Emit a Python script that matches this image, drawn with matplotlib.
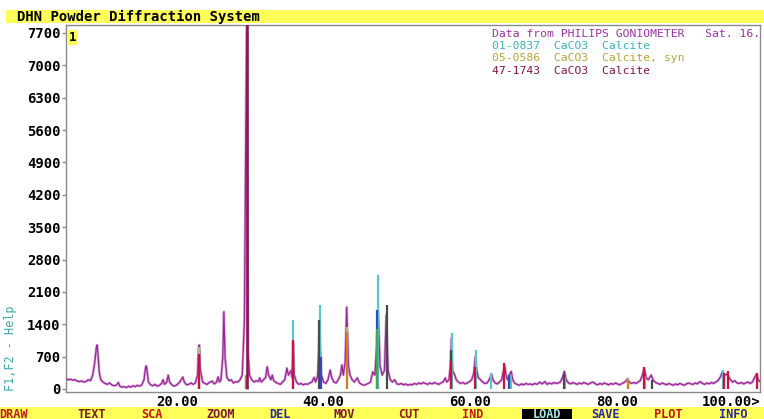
import matplotlib
matplotlib.use("Agg")
import matplotlib.pyplot as plt
from matplotlib.patches import Rectangle

# ---------------- data ----------------
meas_x = [4.9, 5.2, 5.5, 5.8, 6.1, 6.4, 6.7, 7.0, 7.3, 7.6, 7.9, 8.2, 8.5, 8.8, 9.0, 9.1, 9.25, 9.4, 9.6, 9.9,
          10.2, 10.5, 10.8, 11.1, 11.4, 11.7, 12.0, 12.2, 12.5, 12.8, 13.1, 13.4, 13.7, 14.0, 14.3, 14.6, 14.9,
          15.2, 15.5, 15.7, 15.8, 15.9, 16.1, 16.4,
          16.7, 17.0, 17.3, 17.6, 17.9, 18.1, 18.3, 18.6, 18.8, 19.0, 19.3, 19.6, 19.9, 20.2, 20.5, 20.8, 21.0,
          21.3, 21.6, 21.9, 22.2, 22.5, 22.8, 22.95, 23.05, 23.2, 23.5, 23.8, 24.1, 24.4, 24.8, 25.1, 25.4, 25.6,
          25.8, 26.0, 26.25, 26.4, 26.55, 26.8, 27.1, 27.4, 27.7, 28.0, 28.3, 28.6, 28.9, 29.2, 29.5,
          29.7, 29.9, 30.2, 30.5, 30.8, 31.1, 31.3, 31.5, 31.8, 32.1, 32.3, 32.5, 32.8, 33.0, 33.2, 33.5, 33.8,
          34.1, 34.4, 34.7, 35.0, 35.2, 35.55, 35.7, 35.85, 36.0, 36.3, 36.6, 36.9, 37.2, 37.5, 37.8, 38.1, 38.4,
          38.7, 38.9, 39.2, 39.45, 39.7, 40.0, 40.3, 40.6, 40.9, 41.1, 41.4, 41.7, 42.0, 42.3, 42.5, 42.7, 42.95,
          43.15, 43.4, 43.6, 43.9, 44.2, 44.6, 44.9, 45.2, 45.5, 45.8, 46.1, 46.4, 46.7, 47.0, 47.2, 47.45, 47.7,
          48.0, 48.3, 48.55, 48.8, 49.1, 49.4, 49.7, 50.0, 50.3, 50.6, 50.9, 51.2, 51.5, 51.8,
          52.1, 52.4, 52.7, 53.0, 53.3, 53.6, 53.9, 54.2, 54.5, 54.8, 55.1, 55.4, 55.7, 56.0, 56.3, 56.6, 56.8,
          57.1, 57.3, 57.45, 57.6, 57.9, 58.1, 58.4, 58.7, 59.0, 59.3, 59.6, 59.9, 60.2, 60.5, 60.7, 60.9, 61.1,
          61.4, 61.7, 62.0, 62.3, 62.6, 62.9, 63.1, 63.4, 63.7, 64.0, 64.3, 64.55, 64.7, 64.9, 65.1, 65.4, 65.6,
          65.8, 66.1, 66.4, 66.7, 67.0, 67.3, 67.6, 67.9, 68.2, 68.5, 68.8, 69.1, 69.5, 69.8, 70.2, 70.5, 70.8,
          71.1, 71.4, 71.7, 72.0, 72.3, 72.6, 72.85, 73.1, 73.4, 73.7, 74.0, 74.3, 74.6, 74.9, 75.2, 75.5, 75.8,
          76.1, 76.4, 76.75, 77.1, 77.4, 77.7, 78.0, 78.3, 78.6, 78.9, 79.2, 79.5, 79.8, 80.1, 80.4, 80.7, 81.0,
          81.3, 81.5, 81.7, 82.0, 82.3, 82.6, 82.9, 83.2, 83.5, 83.75, 84.0, 84.3, 84.7, 85.0, 85.3, 85.6, 85.9,
          86.2, 86.5, 86.8, 87.1, 87.4, 87.7, 88.0, 88.3, 88.6, 88.9, 89.2, 89.5, 89.8, 90.1, 90.4, 90.7, 91.0,
          91.35, 91.7, 92.0, 92.3, 92.6, 92.9, 93.2, 93.5, 93.8, 94.1, 94.45, 94.7, 95.0, 95.2, 95.5, 95.8, 96.1,
          96.4, 96.7, 97.0, 97.3, 97.6, 97.9, 98.2, 98.5, 98.8, 99.1, 99.3, 99.6]
meas_y = [220, 200, 210, 190, 200, 170, 160, 175, 150, 165, 200, 180, 300, 600, 900, 950, 700, 350, 200, 150,
          120, 100, 130, 90, 70, 80, 140, 60, 40, 50, 30, 60, 40, 70, 50, 80, 60,
          90, 200, 450, 500, 420, 150, 90,
          70, 100, 60, 80, 120, 200, 100, 150, 300, 150, 90, 60, 80, 120, 180, 260, 150,
          90, 100, 130, 100, 130, 300, 900, 950, 400, 150, 120, 100, 140, 170, 110, 150, 260,
          150, 200, 700, 1670, 700, 250, 180, 200, 130, 160, 150, 200, 300, 1500, 7900,
          800, 300, 200, 150, 180, 160, 240, 150, 200, 250, 480, 300, 200, 300, 180, 140, 120,
          100, 150, 200, 450, 300, 400, 250, 1000, 300, 150, 100, 120, 90, 110, 100, 130, 150,
          250, 150, 300, 1300, 300, 150, 120, 200, 410, 250, 150, 130, 200, 300, 520, 300, 600,
          1770, 500, 300, 200, 150, 240, 130, 100, 80, 100, 120, 150, 370, 300, 800, 1700, 500,
          300, 400, 1600, 400, 200, 150, 200, 110, 100, 120, 90, 110, 80, 100,
          90, 120, 100, 130, 110, 140, 120, 100, 130, 110, 140, 120, 100, 130, 150, 240, 150,
          200, 500, 1100, 400, 300, 200, 150, 120, 140, 110, 130, 160, 200, 350, 700, 400, 250,
          200, 150, 120, 130, 200, 330, 200, 130, 110, 150, 200, 400, 500, 300, 200, 320, 380,
          200, 120, 100, 80, 110, 90, 120, 100, 110, 90, 120, 100, 150, 110, 160, 100, 130,
          110, 140, 120, 130, 150, 250, 380, 200, 130, 110, 140, 120, 100, 130, 110, 140, 120,
          100, 130, 150, 110, 90, 120, 100, 130, 110, 90, 120, 100, 130, 110, 90, 120, 140,
          180, 220, 150, 120, 140, 120, 150, 180, 300, 450, 250, 200, 300, 180, 140, 120, 100,
          130, 110, 90, 120, 100, 80, 110, 90, 120, 100, 80, 110, 130, 110, 100, 130, 110,
          160, 120, 100, 130, 110, 140, 120, 150, 180, 250, 380, 300, 320, 280, 200, 150, 180,
          130, 120, 140, 110, 130, 150, 120, 150, 250, 330, 200, 150]

# reference stick patterns (legend ones)
cyan_x = [35.85, 39.45, 47.4, 57.5, 60.8, 62.9, 65.6, 72.9, 83.9, 94.45]
cyan_h = [1490, 1820, 2470, 1210, 840, 350, 300, 250, 280, 410]
olive_x = [43.2, 23.0, 81.5]
olive_h = [1340, 900, 220]
maroon_x = [29.5]
maroon_h = [7900]
# additional stick overlays
gray_x = [39.4, 48.6, 57.45, 72.85, 84.75]
gray_h = [1490, 1820, 840, 320, 200]
orange_x = [43.15, 23.05, 81.5, 29.4]
orange_h = [1230, 700, 200, 300]
blue_x = [39.6, 47.35, 65.3]
blue_h = [700, 1700, 300]
green_x = [47.35, 29.4]
green_h = [1300, 250]
red_x = [23.0, 35.8, 57.4, 60.65, 64.65, 83.7, 94.6, 95.2, 99.1]
red_h = [750, 1060, 600, 480, 560, 480, 350, 380, 350]

y_ticks = [0, 700, 1400, 2100, 2800, 3500, 4200, 4900, 5600, 6300, 7000, 7700]
x_ticks = [20, 40, 60, 80]
x_tick_labels = ["20.00", "40.00", "60.00", "80.00"]

legend_codes = ["01-0837", "05-0586", "47-1743"]
legend_formula = ["CaCO3", "CaCO3", "CaCO3"]
legend_names = ["Calcite", "Calcite, syn", "Calcite"]
legend_colors = ["#38B4B8", "#B4A43C", "#84143A"]

menu_words = ["DRAW", "TEXT", "SCA", "ZOOM", "DEL", "MOV", "CUT", "IND", "LOAD", "SAVE", "PLOT", "INFO"]
menu_centers = [14, 92, 152, 221, 280, 344, 409, 473, 547, 605, 668, 733]
menu_colors = ["#C01818", "#801818", "#C01818", "#801830", "#2828A0", "#801830",
               "#902018", "#C01818", "#A8E8E8", "#2828A0", "#C01818", "#2828A0"]

# ---------------- figure ----------------
W, H = 764, 419
fig = plt.figure(figsize=(W / 100, H / 100), dpi=100)
fig.patch.set_facecolor("white")

def fx(px):
    return px / W

def fy(py):
    return 1 - py / H

mono = "DejaVu Sans Mono"
yellow = "#FFFF5A"

# title bar
fig.patches.append(Rectangle((fx(6), fy(23)), fx(W) - fx(6), fy(10) - fy(23),
                             transform=fig.transFigure, facecolor=yellow, edgecolor="none", zorder=0))
fig.text(fx(17), fy(21.5), "DHN Powder Diffraction System", family=mono, weight="bold",
         fontsize=10, color="black", va="baseline", ha="left")

# bottom menu bar
fig.patches.append(Rectangle((0, 0), 1, fy(407), transform=fig.transFigure,
                             facecolor=yellow, edgecolor="none", zorder=0))
fig.patches.append(Rectangle((fx(522), 0), fx(572) - fx(522), fy(409), transform=fig.transFigure,
                             facecolor="black", edgecolor="none", zorder=1))
for w, c, col in zip(menu_words, menu_centers, menu_colors):
    fig.text(fx(c), fy(417.5), w, family=mono, weight="bold", fontsize=8.6, color=col,
             ha="center", va="baseline")

ax = fig.add_axes([fx(66), fy(392), fx(760) - fx(66), fy(25) - fy(392)])
ax.set_xlim(4.857, 99.54)
ax.set_ylim(-65, 7873)

# measured profile
ax.plot(meas_x, meas_y, color="#DCA8DC", lw=1.9, zorder=2)
ax.plot(meas_x, meas_y, color="#962896", lw=0.9, zorder=3)

stick_lw = 1.6
ax.vlines(cyan_x, 0, cyan_h, color="#58C8C8", lw=stick_lw, zorder=4)
ax.vlines(gray_x, 0, gray_h, color="#4A4A4A", lw=stick_lw, zorder=5)
ax.vlines(olive_x, 0, olive_h, color="#A8C070", lw=stick_lw, zorder=5)
ax.vlines(blue_x, 0, blue_h, color="#3848B8", lw=stick_lw, zorder=6)
ax.vlines(green_x, 0, green_h, color="#50A050", lw=stick_lw, zorder=7)
ax.vlines(orange_x, 0, orange_h, color="#D08020", lw=stick_lw, zorder=7)
ax.vlines(red_x, 0, red_h, color="#D0103C", lw=stick_lw, zorder=8)
ax.vlines(maroon_x, 0, maroon_h, color="#8C1850", lw=1.9, zorder=9)

# axes styling
for s in ax.spines.values():
    s.set_color("#8A8A8A")
    s.set_linewidth(1.0)
ax.set_yticks(y_ticks)
ax.set_yticklabels([str(v) for v in y_ticks], family=mono, weight="bold", fontsize=10)
ax.tick_params(axis="y", length=3, width=1, color="#8A8A8A", pad=1)
ax.set_xticks(x_ticks)
ax.set_xticklabels(x_tick_labels, family=mono, weight="bold", fontsize=10)
ax.tick_params(axis="x", length=0, pad=2)
fig.text(fx(760), fy(394.5), "100.00>", family=mono, weight="bold", fontsize=10,
         ha="right", va="top")

# "1" box
ax.text(0.004, 0.983, "1", transform=ax.transAxes, family=mono, weight="bold", fontsize=9,
        ha="left", va="top", bbox=dict(facecolor=yellow, edgecolor="none", pad=0.8), zorder=10)

# y label / help
fig.text(fx(11), fy(348), "F1,F2 - Help", family=mono, fontsize=8.5, color="#40A8A8",
         rotation=90, ha="center", va="center")

# data/pattern legend text
fig.text(fx(492), fy(34), "Data from PHILIPS GONIOMETER   Sat. 16.", family=mono, fontsize=8.2,
         color="#A030A8", ha="left", va="center")
for i, (code, form, name, col) in enumerate(zip(legend_codes, legend_formula, legend_names, legend_colors)):
    fig.text(fx(492), fy(46 + 12.3 * i), f"{code}  {form}  {name}", family=mono, fontsize=8.2,
             color=col, ha="left", va="center")

fig.savefig("out.png", dpi=100)
